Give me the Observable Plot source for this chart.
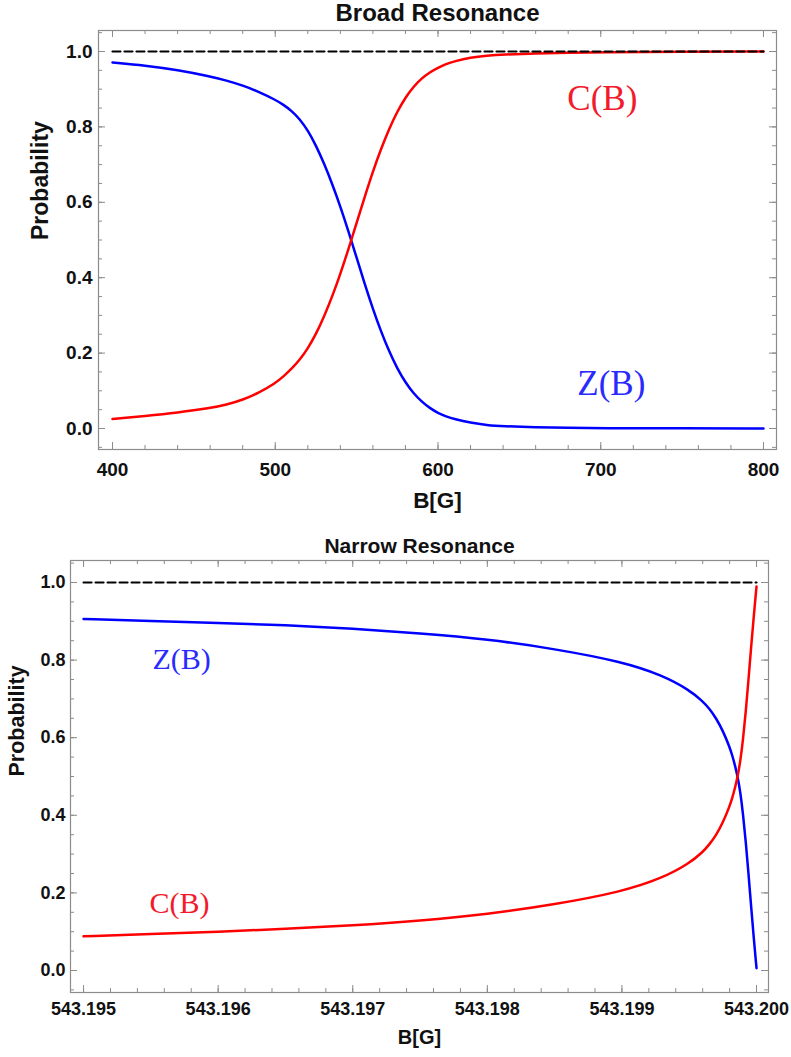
<!DOCTYPE html>
<html>
<head>
<meta charset="utf-8">
<script src="https://cdn.jsdelivr.net/npm/d3@7"></script>
<script src="https://cdn.jsdelivr.net/npm/@observablehq/plot@0.6"></script>
<style>
  html, body { margin: 0; padding: 0; background: #fff; overflow: hidden; }
  #chart svg { display: block; }
</style>
</head>
<body>
<div id="chart"></div>
<script>
// ---------------- Data ----------------
// Broad resonance
const broadB = [400, 420, 440, 460, 470, 480, 490, 500, 505, 510, 515, 520, 525, 530, 535, 540, 545, 550, 555, 560, 565, 570, 575, 580, 585, 590, 595, 600, 605, 610, 620, 630, 640, 660, 680, 700, 750, 800];
const broadZ = [0.971, 0.963, 0.951, 0.934, 0.923, 0.910, 0.893, 0.872, 0.859, 0.843, 0.821, 0.791, 0.751, 0.703, 0.649, 0.589, 0.523, 0.453, 0.383, 0.317, 0.257, 0.204, 0.159, 0.122, 0.093, 0.071, 0.054, 0.041, 0.032, 0.025, 0.015, 0.009, 0.006, 0.003, 0.0015, 0.001, 0.0003, 0.0];
const broadC = [0.025, 0.033, 0.042, 0.054, 0.063, 0.076, 0.095, 0.120, 0.138, 0.158, 0.182, 0.212, 0.250, 0.297, 0.350, 0.410, 0.476, 0.545, 0.615, 0.682, 0.742, 0.795, 0.841, 0.878, 0.907, 0.929, 0.945, 0.957, 0.967, 0.974, 0.984, 0.989, 0.992, 0.995, 0.997, 0.998, 0.9995, 1.0];

// Narrow resonance
const narrowB = [543.1950, 543.1955, 543.1960, 543.1965, 543.1970, 543.1975, 543.1980, 543.1985, 543.1990, 543.1993, 543.1995, 543.1996, 543.19965, 543.1997, 543.19975, 543.1998, 543.19982, 543.19984, 543.19986, 543.19988, 543.19990, 543.19992, 543.19994, 543.19996, 543.19998, 543.2000];
const narrowZ = [0.906, 0.901, 0.896, 0.890, 0.881, 0.869, 0.854, 0.829, 0.796, 0.761, 0.723, 0.694, 0.675, 0.650, 0.618, 0.576, 0.554, 0.529, 0.499, 0.459, 0.403, 0.333, 0.251, 0.165, 0.081, 0.006];
const narrowC = [0.088, 0.094, 0.100, 0.107, 0.116, 0.128, 0.145, 0.170, 0.203, 0.238, 0.276, 0.305, 0.325, 0.349, 0.381, 0.423, 0.445, 0.470, 0.500, 0.540, 0.596, 0.666, 0.748, 0.834, 0.915, 0.990];

// Total probability reference level
const unity = 1;

// Tick values
const broadXTicks = [400, 500, 600, 700, 800];
const broadXMinor = d3.range(400, 801, 20);
const narrowXTicks = [543.195, 543.196, 543.197, 543.198, 543.199, 543.200];
const narrowXMinor = d3.range(0, 26).map(i => 543.195 + i * 0.0002);
const yTicks = [0, 0.2, 0.4, 0.6, 0.8, 1.0];
const yMinor = d3.range(-1, 22).map(i => i * 0.05);

// Texts
const titles = ["Broad Resonance", "Narrow Resonance"];
const xLabel = "B[G]";
const yLabel = "Probability";
const curveNames = ["C(B)", "Z(B)"];

// Curve-label anchors (data coordinates), in order C(B), Z(B)
const broadLabelB = [701, 706.5];
const broadLabelP = [0.845, 0.088];
const narrowLabelB = [543.195713, 543.195728];
const narrowLabelP = [0.149, 0.778];

// ---------------- Drawing ----------------
const GRAY = "#8c8c8c";
const SANS = "'Liberation Sans', Arial, Helvetica, sans-serif";
const SERIF = "'Liberation Serif', 'Times New Roman', serif";
const RED = "#ff0000", BLUE = "#0000ff";
const RED_TXT = "#f21a2b", BLUE_TXT = "#2a2aff";

function panel(o) {
  const W = o.width - o.ml - o.mr;
  const H = o.height - o.mt - o.mb;
  const data = o.B.map((b, i) => ({b, z: o.Z[i], c: o.C[i]}));
  const labels = curveNames.map((t, i) => ({t, b: o.labelB[i], p: o.labelP[i]}));
  return Plot.plot({
    width: o.width,
    height: o.height,
    marginTop: o.mt, marginRight: o.mr, marginBottom: o.mb, marginLeft: o.ml,
    x: {domain: o.xDomain},
    y: {domain: o.yDomain},
    style: {fontFamily: SANS, background: "#fff", color: "#111"},
    marks: [
      Plot.frame({stroke: GRAY, strokeWidth: 1.2}),
      // inward ticks on all four sides
      Plot.tickX(o.xMinor, {x: d => d, insetTop: H - 4, stroke: GRAY}),
      Plot.tickX(o.xMinor, {x: d => d, insetBottom: H - 4, stroke: GRAY}),
      Plot.tickX(o.xTicks, {x: d => d, insetTop: H - 7, stroke: GRAY}),
      Plot.tickX(o.xTicks, {x: d => d, insetBottom: H - 7, stroke: GRAY}),
      Plot.tickY(yMinor, {y: d => d, insetRight: W - 4, stroke: GRAY}),
      Plot.tickY(yMinor, {y: d => d, insetLeft: W - 4, stroke: GRAY}),
      Plot.tickY(yTicks, {y: d => d, insetRight: W - 7, stroke: GRAY}),
      Plot.tickY(yTicks, {y: d => d, insetLeft: W - 7, stroke: GRAY}),
      Plot.axisX({ticks: o.xTicks, tickSize: 0, tickPadding: o.xPad, tickFormat: o.xFormat,
                  fontSize: o.tickFont, fontWeight: "bold", fill: "#111", label: null}),
      Plot.axisY({ticks: yTicks, tickSize: 0, tickPadding: o.yPad, tickFormat: d3.format(".1f"),
                  fontSize: o.tickFont, fontWeight: "bold", fill: "#111", label: null}),
      Plot.line(data, {x: "b", y: "z", stroke: BLUE, strokeWidth: 2.5, curve: "basis"}),
      Plot.line(data, {x: "b", y: "c", stroke: RED, strokeWidth: 2.5, curve: "basis"}),
      Plot.line(data, {x: "b", y: () => unity, stroke: "#000", strokeWidth: 2.2, strokeDasharray: "8,4"}),
      Plot.text(labels, {x: "b", y: "p", text: "t", lineAnchor: "bottom", textAnchor: "middle",
                         fontFamily: SERIF, fontSize: o.labelFont,
                         fill: (d) => d.t === "C(B)" ? RED_TXT : BLUE_TXT}),
      Plot.text([o.title], {frameAnchor: "top", dy: o.titleDy, lineAnchor: "bottom",
                            fontSize: o.titleFont, fontWeight: "bold", fill: "#111"}),
      Plot.text([xLabel], {frameAnchor: "bottom", dy: o.xlabDy, lineAnchor: "bottom",
                           fontSize: o.xlabFont, fontWeight: "bold", fill: "#111"}),
      Plot.text([yLabel], {frameAnchor: "left", dx: o.ylabDx, rotate: -90,
                           fontSize: o.ylabFont, fontWeight: "bold", fill: "#111"})
    ]
  });
}

const chart = document.getElementById("chart");

const broadChart = panel({
  B: broadB, Z: broadZ, C: broadC,
  width: 791, height: 515, mt: 30, mr: 15, mb: 66, ml: 98,
  xDomain: [391.40, 807.99], yDomain: [-0.0557, 1.0557],
  xTicks: broadXTicks, xMinor: broadXMinor, xFormat: d => String(d),
  xPad: 13, yPad: 6, tickFont: 19,
  title: titles[0], titleDy: -10, titleFont: 24,
  xlabDy: 58, xlabFont: 22.5,
  ylabDx: -58, ylabFont: 23,
  labelB: broadLabelB, labelP: broadLabelP, labelFont: 35
});
chart.appendChild(broadChart);

const narrowChart = panel({
  B: narrowB, Z: narrowZ, C: narrowC,
  width: 791, height: 542, mt: 45, mr: 23, mb: 65, ml: 70,
  xDomain: [543.194903, 543.200089], yDomain: [-0.0567, 1.0567],
  xTicks: narrowXTicks, xMinor: narrowXMinor, xFormat: d => d.toFixed(3),
  xPad: 10, yPad: 5, tickFont: 18,
  title: titles[1], titleDy: -8, titleFont: 21,
  xlabDy: 51, xlabFont: 20,
  ylabDx: -53, ylabFont: 21.5,
  labelB: narrowLabelB, labelP: narrowLabelP, labelFont: 30
});
chart.appendChild(narrowChart);
</script>
</body>
</html>
